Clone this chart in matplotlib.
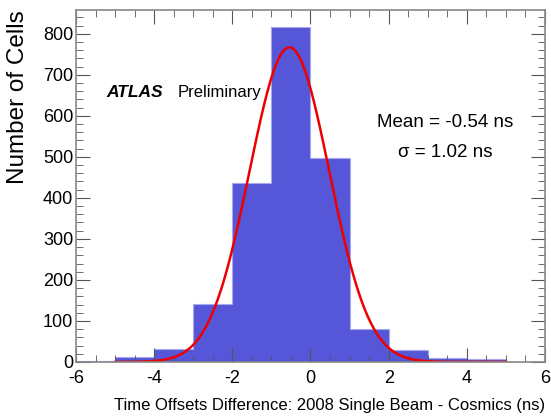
#!/usr/bin/env python
# -*- encoding: utf-8 -*-
'''time offset difference histogram, ATLAS style'''

import numpy as np
import matplotlib.pyplot as plt
from matplotlib.ticker import MultipleLocator

plt.rcParams['font.family'] = ['Liberation Sans', 'DejaVu Sans']
plt.rcParams['axes.unicode_minus'] = False

bin_edges = [-6, -5, -4, -3, -2, -1, 0, 1, 2, 3, 4, 5, 6]
counts = [2, 13, 31, 141, 437, 816, 496, 80, 28, 10, 7, 0]

fit_mean = -0.54
fit_sigma = 1.02
fit_amp = 767
fit_range = (-5, 5)


def main():
    fig = plt.figure(figsize=(5.51, 4.17), dpi=100)
    ax = fig.add_axes([0.138, 0.132, 0.851, 0.844])

    ax.stairs(counts, bin_edges, fill=True, color='#5656d8', edgecolor='none')
    ax.stairs(counts, bin_edges, fill=False, color='#a8a8ee', lw=0.8)

    x = np.linspace(fit_range[0], fit_range[1], 400)
    y = fit_amp * np.exp(-0.5 * ((x - fit_mean) / fit_sigma) ** 2)
    ax.plot(x, y, color='#ee0000', lw=1.8)

    ax.set_xlim(-6, 6)
    ax.set_ylim(0, 858)
    ax.xaxis.set_major_locator(MultipleLocator(2))
    ax.xaxis.set_minor_locator(MultipleLocator(0.5))
    ax.yaxis.set_major_locator(MultipleLocator(100))
    ax.yaxis.set_minor_locator(MultipleLocator(20))
    ax.tick_params(which='both', direction='in', top=True, right=True,
                   color='#555555', labelsize=13)
    ax.tick_params(axis='x', pad=6)
    ax.tick_params(axis='y', pad=2)
    ax.tick_params(which='major', length=10)
    ax.tick_params(which='minor', length=5)
    for s in ax.spines.values():
        s.set_color('#888888')
        s.set_linewidth(1.2)

    ax.text(0.065, 0.767, 'ATLAS', transform=ax.transAxes, fontsize=12.5,
            fontweight='bold', style='italic', va='center')
    ax.text(0.217, 0.767, 'Preliminary', transform=ax.transAxes, fontsize=12,
            va='center')
    ax.text(0.787, 0.68, 'Mean = -0.54 ns', transform=ax.transAxes,
            fontsize=13.5, ha='center', va='center')
    ax.text(0.787, 0.595, 'σ = 1.02 ns', transform=ax.transAxes,
            fontsize=13.5, ha='center', va='center')

    fig.text(0.032, 0.976, 'Number of Cells', rotation=90, fontsize=17.5,
             ha='center', va='top')
    fig.text(0.989, 0.028, 'Time Offsets Difference: 2008 Single Beam - Cosmics (ns)',
             fontsize=12, ha='right', va='center')

    fig.savefig('out.png', dpi=100)


if __name__ == '__main__':
    main()
